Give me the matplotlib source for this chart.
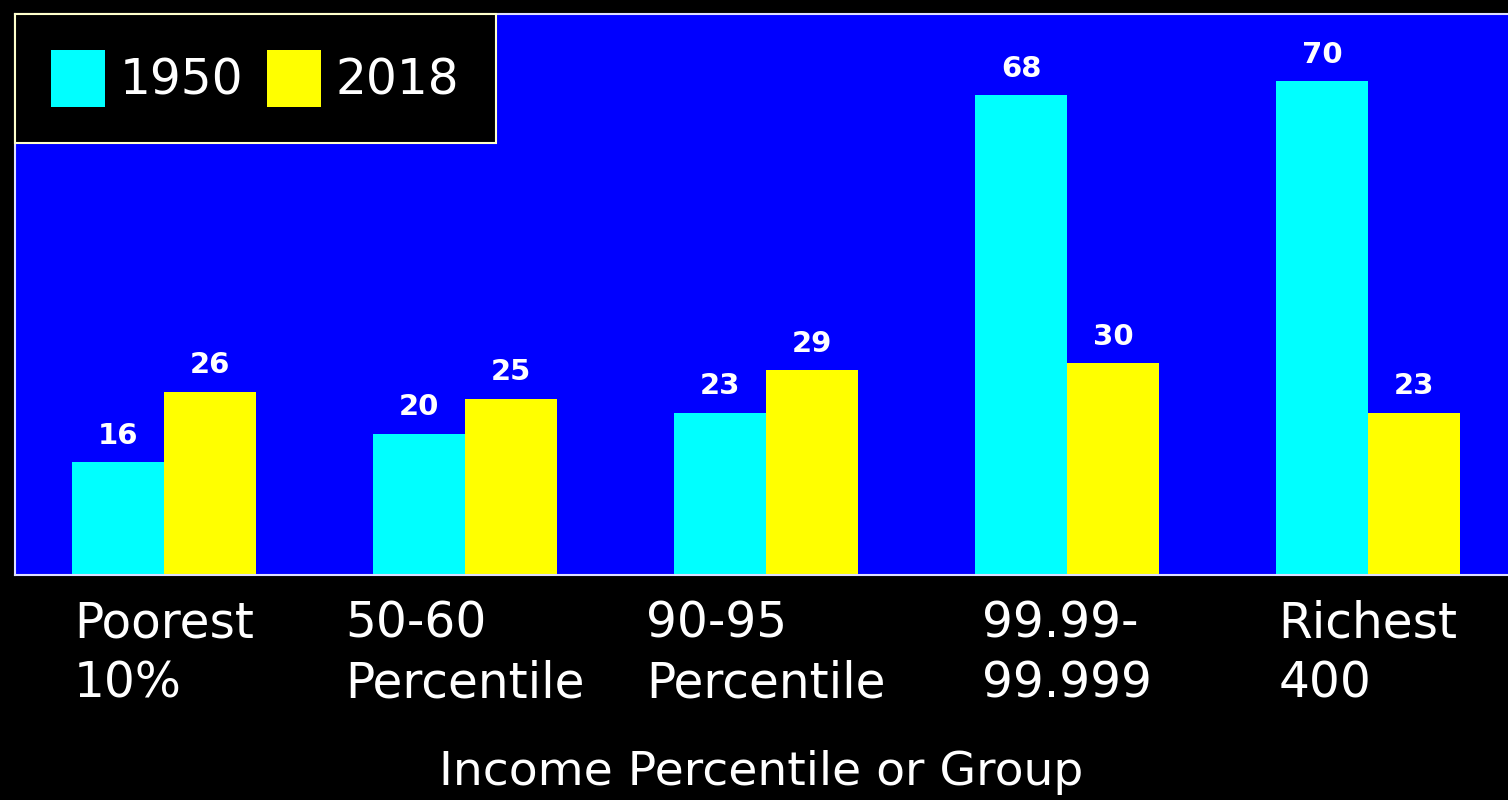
import numpy as np
import matplotlib
matplotlib.use("Agg")
import matplotlib.pyplot as plt

groups = ["Poorest\n10%", "50-60\nPercentile", "90-95\nPercentile",
          "99.99-\n99.999", "Richest\n400"]
years = ["1950", "2018"]
rate_1950 = [16, 20, 23, 68, 70]
rate_2018 = [26, 25, 29, 30, 23]

plt.rcParams['font.family'] = ['DejaVu Sans']

fig = plt.figure(figsize=(15.08, 8), dpi=100, facecolor='black')
ax = fig.add_axes([15/1508, 225/800, 1493/1508, 561/800])
ax.set_facecolor('#0000ff')

x = np.arange(len(groups))
w = 0.305
b1 = ax.bar(x - w/2, rate_1950, w, color='#00ffff', label=years[0])
b2 = ax.bar(x + w/2, rate_2018, w, color='#ffff00', label=years[1])

for bars in (b1, b2):
    ax.bar_label(bars, padding=9, color='white', fontsize=21, fontweight='bold')

ax.set_xlim(-0.495, 4.465)
ax.set_ylim(0, 79.5)
ax.set_yticks([])
ax.set_xticks(x)
ax.set_xticklabels(groups, color='white', fontsize=35, multialignment='left',
                   linespacing=1.3)
ax.tick_params(axis='x', length=0, pad=18)
ax.set_xlabel("Income Percentile or Group", color='white', fontsize=34, labelpad=31)

for s in ['top', 'bottom', 'left']:
    ax.spines[s].set_color('#ddddff')
    ax.spines[s].set_linewidth(1.5)
ax.spines['right'].set_visible(False)

leg = ax.legend(loc='upper left', bbox_to_anchor=(0, 1), ncol=2, fontsize=35,
                frameon=True, fancybox=False, facecolor='black', edgecolor='#ffffcc',
                framealpha=1, borderaxespad=0, handlelength=1.1, handleheight=1.4,
                handletextpad=0.3, columnspacing=0.5, borderpad=0.75)
leg.get_frame().set_linewidth(1.5)
for t in leg.get_texts():
    t.set_color('white')

fig.savefig("out.png", dpi=100, facecolor='black')
